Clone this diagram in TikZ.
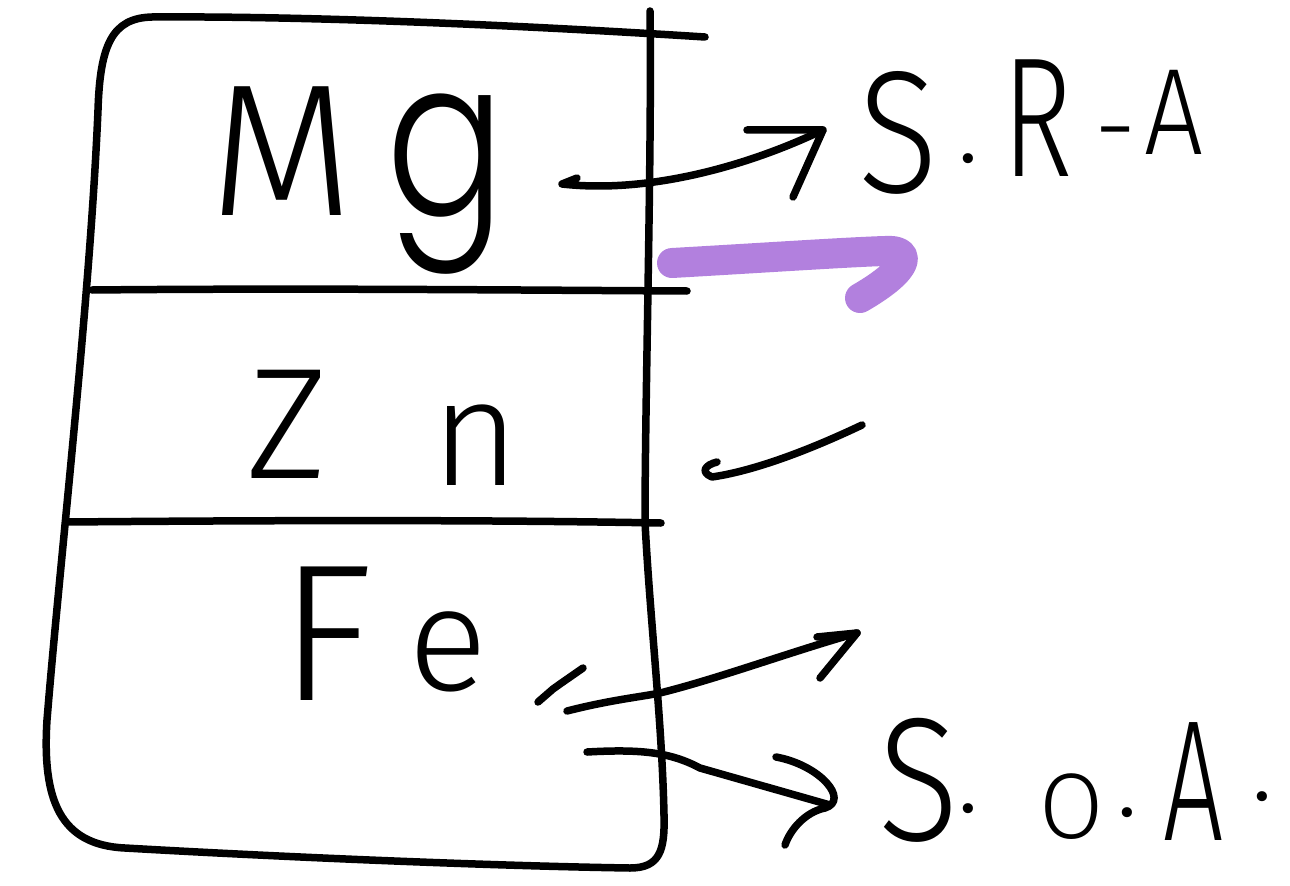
\documentclass[tikz,border=0pt]{standalone}
\usepackage{fontspec}
\newfontfamily\hand{Fira Sans Light}
\newfontfamily\handround{Poppins Light}
\newdimen\pxu \pxu=0.02cm
% one glyph centred in a box of given width (px), font size (pt), raise (px)
\newcommand{\glyphbox}[4]{\raisebox{#3\pxu}{\makebox[#1\pxu][c]{\fontsize{#2}{#2}\selectfont #4}}}
\definecolor{lilac}{RGB}{178,128,222}
\begin{document}
\begin{tikzpicture}[x=0.02cm,y=-0.02cm]
\tikzset{
  ink/.style={draw=black, line width=0.15cm, line cap=round, line join=round},
  hilite/.style={draw=lilac, line width=0.6cm, line cap=round, line join=round},
  elem/.style={inner sep=0pt, anchor=base west, font=\hand},
}
\useasboundingbox (0,0) rectangle (1290,885);

% the table frame
\draw[ink] (705,37) .. controls (500,24) and (300,16) .. (152,17)
  .. controls (112,18) and (100,45) .. (98,110)
  .. controls (90,300) and (60,560) .. (47,720)
  .. controls (42,800) and (60,845) .. (125,848)
  .. controls (300,858) and (500,866) .. (630,868)
  .. controls (660,868) and (665,850) .. (664,815);
\draw[ink] (650,11) .. controls (652,150) and (645,400) .. (645,522)
  .. controls (650,620) and (662,720) .. (664,815);
\draw[ink] (92,290) .. controls (300,288) and (500,290) .. (687,291);
\draw[ink] (67,522) .. controls (300,520) and (500,520) .. (661,523);

% metals
\node[elem] (mg) at (215,215) {\glyphbox{133}{107}{0}{M}\hspace{42\pxu}\glyphbox{110}{125}{0}{\handround\scalebox{0.8}[1]{g}}};
\node[elem] (zn) at (222,478) {\glyphbox{130}{90}{0}{Z}\hspace{83\pxu}\glyphbox{80}{86}{-7}{n}};
\node[elem] (fe) at (285,700) {\glyphbox{83}{111}{0}{F}\hspace{30\pxu}\glyphbox{100}{84}{10}{e}};

% agent labels
\node[elem] (sra) at (858,193) {\glyphbox{80}{99}{0}{\scalebox{0.85}[1]{S}}\hspace{17\pxu}\glyphbox{26}{60}{30}{.}\hspace{20\pxu}\glyphbox{72}{97}{16}{\scalebox{0.7}[1]{R}}\hspace{22\pxu}\glyphbox{40}{60}{30}{-}\hspace{7\pxu}\glyphbox{64}{70}{38}{\scalebox{0.85}[1]{A}}};
\node[elem] (soa) at (877,840) {\glyphbox{82}{100}{0}{\scalebox{0.85}[1]{S}}\glyphbox{18}{60}{28}{.}\hspace{61\pxu}\glyphbox{67}{53}{2}{O}\hspace{12\pxu}\glyphbox{20}{60}{24}{.}\hspace{23\pxu}\glyphbox{66}{98}{0}{\scalebox{0.62}[1]{A}}\hspace{26\pxu}\glyphbox{20}{60}{40}{.}};

% arrow ends
\coordinate (mgT) at (577,178);
\coordinate (mgH) at (823,130);
\coordinate (znT) at (717,462);
\coordinate (znH) at (862,425);
\coordinate (upT) at (672,263);
\coordinate (upH) at (885,251);
\coordinate (feT) at (567,711);
\coordinate (feH) at (857,633);
\coordinate (feS) at (587,752);
\coordinate (feD) at (830,805);

% Mg -> S.R-A
\draw[ink] (mgT) -- (562,184) .. controls (650,194) and (750,165) .. (mgH);
\draw[ink] (747,130) -- (mgH) -- (793,197);

% highlighted arrow
\draw[hilite] (upT) .. controls (760,258) and (850,252) .. (upH)
  .. controls (912,249) and (912,268) .. (860,298);

% Zn tick
\draw[ink] (znT) .. controls (705,465) and (700,472) .. (712,477)
  .. controls (760,470) and (820,445) .. (znH);

% Fe arrows
\draw[ink] (538,702) -- (553,689) -- (560,684) -- (583,668);
\draw[ink] (feT) .. controls (610,700) and (640,697) .. (660,693)
  .. controls (720,678) and (790,652) .. (feH);
\draw[ink] (817,637) -- (feH) -- (820,678);
\draw[ink] (feS) .. controls (640,749) and (670,752) .. (700,768) -- (feD);
\draw[ink] (776,757) .. controls (820,765) and (850,800) .. (825,808)
  .. controls (805,812) and (790,830) .. (785,845);
\end{tikzpicture}
\end{document}
